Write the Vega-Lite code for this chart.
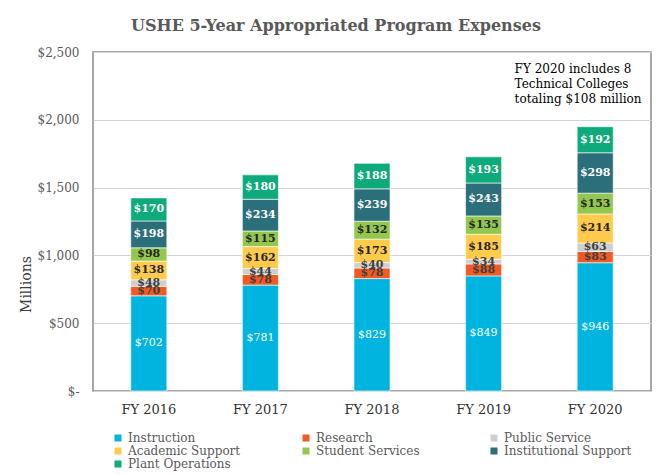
{
  "$schema": "https://vega.github.io/schema/vega-lite/v6.json",
  "width": 558,
  "height": 339,
  "autosize": {"type": "none"},
  "padding": {"left": 93, "top": 52, "right": 17, "bottom": 84},
  "background": "white",
  "title": {
    "text": "USHE 5-Year Appropriated Program Expenses",
    "font": "DejaVu Serif",
    "fontSize": 16,
    "fontWeight": "bold",
    "color": "#595959",
    "anchor": "middle",
    "dx": -36,
    "offset": 12
  },
  "config": {
    "view": {"stroke": "#8c8c8c", "strokeWidth": 1.5},
    "font": "DejaVu Serif"
  },
  "data": {
    "values": [
      {"year": "FY 2016", "category": "Instruction", "value": 702},
      {"year": "FY 2016", "category": "Research", "value": 70},
      {"year": "FY 2016", "category": "Public Service", "value": 48},
      {"year": "FY 2016", "category": "Academic Support", "value": 138},
      {"year": "FY 2016", "category": "Student Services", "value": 98},
      {"year": "FY 2016", "category": "Institutional Support", "value": 198},
      {"year": "FY 2016", "category": "Plant Operations", "value": 170},
      {"year": "FY 2017", "category": "Instruction", "value": 781},
      {"year": "FY 2017", "category": "Research", "value": 78},
      {"year": "FY 2017", "category": "Public Service", "value": 44},
      {"year": "FY 2017", "category": "Academic Support", "value": 162},
      {"year": "FY 2017", "category": "Student Services", "value": 115},
      {"year": "FY 2017", "category": "Institutional Support", "value": 234},
      {"year": "FY 2017", "category": "Plant Operations", "value": 180},
      {"year": "FY 2018", "category": "Instruction", "value": 829},
      {"year": "FY 2018", "category": "Research", "value": 78},
      {"year": "FY 2018", "category": "Public Service", "value": 40},
      {"year": "FY 2018", "category": "Academic Support", "value": 173},
      {"year": "FY 2018", "category": "Student Services", "value": 132},
      {"year": "FY 2018", "category": "Institutional Support", "value": 239},
      {"year": "FY 2018", "category": "Plant Operations", "value": 188},
      {"year": "FY 2019", "category": "Instruction", "value": 849},
      {"year": "FY 2019", "category": "Research", "value": 88},
      {"year": "FY 2019", "category": "Public Service", "value": 34},
      {"year": "FY 2019", "category": "Academic Support", "value": 185},
      {"year": "FY 2019", "category": "Student Services", "value": 135},
      {"year": "FY 2019", "category": "Institutional Support", "value": 243},
      {"year": "FY 2019", "category": "Plant Operations", "value": 193},
      {"year": "FY 2020", "category": "Instruction", "value": 946},
      {"year": "FY 2020", "category": "Research", "value": 83},
      {"year": "FY 2020", "category": "Public Service", "value": 63},
      {"year": "FY 2020", "category": "Academic Support", "value": 214},
      {"year": "FY 2020", "category": "Student Services", "value": 153},
      {"year": "FY 2020", "category": "Institutional Support", "value": 298},
      {"year": "FY 2020", "category": "Plant Operations", "value": 192}
    ]
  },
  "encoding": {
    "x": {
      "field": "year",
      "type": "nominal",
      "scale": {"paddingInner": 0.677, "paddingOuter": 0.3385},
      "axis": {
        "title": null,
        "labelAngle": 0,
        "domain": false,
        "ticks": false,
        "labelPadding": 12,
        "labelFont": "DejaVu Serif",
        "labelFontSize": 13,
        "labelColor": "#333333"
      }
    },
    "y": {
      "field": "value",
      "type": "quantitative",
      "stack": "zero",
      "scale": {"domain": [0, 2500]},
      "axis": {
        "values": [0, 500, 1000, 1500, 2000, 2500],
        "title": "Millions",
        "titleFont": "DejaVu Serif",
        "titleFontSize": 14,
        "titleFontWeight": "normal",
        "titleColor": "#404040",
        "titleX": -60,
        "titleY": 232,
        "domain": false,
        "ticks": false,
        "labelPadding": 14,
        "labelFont": "DejaVu Serif",
        "labelFontSize": 12,
        "labelColor": "#595959",
        "labelExpr": "datum.value == 0 ? '$-\u00a0\u00a0' : format(datum.value, '$,')",
        "gridColor": "#d4d4d4",
        "gridWidth": 1
      }
    }
  },
  "layer": [
    {
      "layer": [
        {
          "mark": {"type": "bar", "stroke": "white", "strokeWidth": 0.6},
          "encoding": {
            "order": {"field": "stackOrder", "type": "quantitative", "sort": "ascending"},
            "color": {
              "field": "category",
              "type": "nominal",
              "scale": {
                "domain": ["Instruction", "Research", "Public Service", "Academic Support", "Student Services", "Institutional Support", "Plant Operations"],
                "range": ["#00b4e0", "#f15a22", "#cfcfcf", "#ffcb4c", "#92c84e", "#2b6f7b", "#0eaa7b"]
              },
              "legend": {
                "title": null,
                "orient": "none",
                "legendX": 19,
                "legendY": 380,
                "direction": "horizontal",
                "columns": 3,
                "gridAlign": "all",
                "columnPadding": 44,
                "rowPadding": 1,
                "symbolType": "square",
                "symbolSize": 49,
                "symbolStrokeWidth": 0,
                "labelFont": "DejaVu Serif",
                "labelFontSize": 12,
                "labelColor": "#595959",
                "labelOffset": 4
              }
            }
          }
        },
        {
          "mark": {"type": "text", "font": "DejaVu Serif", "fontSize": 11, "fontWeight": "bold", "baseline": "middle"},
          "encoding": {
            "order": {"field": "stackOrder", "type": "quantitative", "sort": "ascending"},
            "y": {"field": "value", "type": "quantitative", "stack": "zero", "bandPosition": 0.5},
            "text": {"field": "value", "type": "quantitative", "format": "$,.0f"},
            "color": {
              "field": "category",
              "type": "nominal",
              "scale": {
                "domain": ["Instruction", "Research", "Public Service", "Academic Support", "Student Services", "Institutional Support", "Plant Operations"],
                "range": ["transparent", "#404040", "#404040", "#262626", "#262626", "#ffffff", "#ffffff"]
              },
              "legend": null
            }
          }
        },
        {
          "transform": [{"filter": "datum.category == 'Instruction'"}],
          "mark": {"type": "text", "font": "DejaVu Serif", "fontSize": 11, "color": "white", "baseline": "middle"},
          "encoding": {
            "y": {"field": "value", "type": "quantitative", "stack": "zero", "bandPosition": 0.5},
            "text": {"field": "value", "type": "quantitative", "format": "$,.0f"}
          }
        }
      ],
      "transform": [
        {"calculate": "indexof(['Instruction', 'Research', 'Public Service', 'Academic Support', 'Student Services', 'Institutional Support', 'Plant Operations'], datum.category)", "as": "stackOrder"}
      ],
      "resolve": {"scale": {"color": "independent"}}
    },
    {
      "mark": {
        "type": "text",
        "text": ["FY 2020 includes 8", "Technical Colleges", "totaling $108 million"],
        "font": "DejaVu Serif",
        "fontSize": 12,
        "color": "#000000",
        "align": "left",
        "baseline": "top",
        "lineHeight": 15,
        "dx": 31
      },
      "transform": [{"filter": "datum.year == 'FY 2020' && datum.category == 'Instruction'"}],
      "encoding": {
        "x": {"datum": "FY 2019", "type": "nominal"},
        "y": {"datum": 2415, "type": "quantitative"}
      }
    }
  ],
  "resolve": {"scale": {"color": "independent"}}
}
